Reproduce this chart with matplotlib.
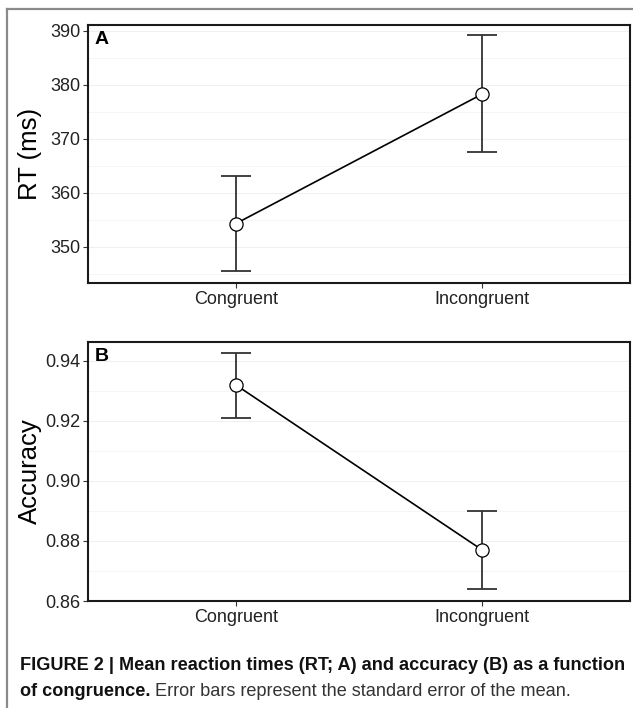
import matplotlib.pyplot as plt
import numpy as np

conditions = ["Congruent", "Incongruent"]

rt_mean = [354.3, 378.3]
rt_low = [345.5, 367.5]
rt_high = [363.2, 389.2]

acc_mean = [0.932, 0.877]
acc_low = [0.921, 0.864]
acc_high = [0.9425, 0.890]

plt.rcParams['font.family'] = ['Liberation Sans Narrow', 'Liberation Sans', 'DejaVu Sans']

fig = plt.figure(figsize=(6.33, 7.08), dpi=100)

# outer frame (left + top)
fig.add_artist(plt.Line2D([7/633, 7/633], [0, 1 - 9/708], color='#8a8a8a', lw=1.6,
                          transform=fig.transFigure))
fig.add_artist(plt.Line2D([7/633, 1], [1 - 9/708, 1 - 9/708], color='#8a8a8a', lw=1.6,
                          transform=fig.transFigure))


def panel(rect, mean, low, high, ylim, yticks, ylabel, letter, fmt):
    ax = fig.add_axes(rect)
    x = np.arange(len(conditions))
    mean = np.array(mean)
    yerr = [mean - np.array(low), np.array(high) - mean]
    step = yticks[1] - yticks[0]
    for t in yticks:
        ax.axhline(t, color='#f0f0f0', lw=0.8, zorder=0)
    for t in list(np.array(yticks) + step / 2) + [yticks[0] - step / 2]:
        ax.axhline(t, color='#f4f4f4', lw=0.6, zorder=0)
    ax.errorbar(x, mean, yerr=yerr, fmt='none', ecolor='#333333', elinewidth=1.3,
                capsize=10.5, capthick=1.3, zorder=2)
    ax.plot(x, mean, color='black', lw=1.2, zorder=3)
    ax.plot(x, mean, 'o', ms=9.5, mfc='white', mec='black', mew=0.9, zorder=4)
    ax.set_xlim(-0.6, 1.6)
    ax.set_ylim(*ylim)
    ax.set_xticks(x)
    ax.set_xticklabels(conditions, fontsize=13, color='#222222')
    ax.set_yticks(yticks)
    ax.set_yticklabels([fmt.format(t) for t in yticks], fontsize=13, color='#222222')
    ax.tick_params(direction='out', length=3.5, width=0.8, color='#333333', pad=2)
    ax.set_ylabel(ylabel, fontsize=18.5, family='Liberation Sans', va='center')
    ax.yaxis.set_label_coords(-58 / 542, 0.5)
    for s in ax.spines.values():
        s.set_linewidth(1.5)
        s.set_color('#1a1a1a')
    ax.text(0.012, 0.975, letter, transform=ax.transAxes, fontsize=14, fontweight='bold',
            family='Liberation Sans', va='top', ha='left')
    return ax


panel([88/633, 1 - 283/708, 542/633, 258/708], rt_mean, rt_low, rt_high,
      (343.3, 391.1), [350, 360, 370, 380, 390], "RT (ms)", "A", "{:.0f}")
panel([88/633, 1 - 601/708, 542/633, 259/708], acc_mean, acc_low, acc_high,
      (0.86, 0.9463), [0.86, 0.88, 0.90, 0.92, 0.94], "Accuracy", "B", "{:.2f}")

# caption
cap_size = 13.1
fig.text(20/633, 1 - 665/708, "FIGURE 2 | Mean reaction times (RT; A) and accuracy (B) as a function",
         fontsize=cap_size, fontweight='bold', family='Liberation Sans', va='center', color='#111111')
t2 = fig.text(20/633, 1 - 691/708, "of congruence.", fontsize=cap_size, fontweight='bold',
              family='Liberation Sans', va='center', color='#111111')
fig.axes[0].annotate(" Error bars represent the standard error of the mean.", xy=(1, 0.5),
                     xycoords=t2, va='center', ha='left', fontsize=cap_size,
                     family='Liberation Sans', color='#333333', annotation_clip=False)

fig.savefig("out.png", dpi=100)
